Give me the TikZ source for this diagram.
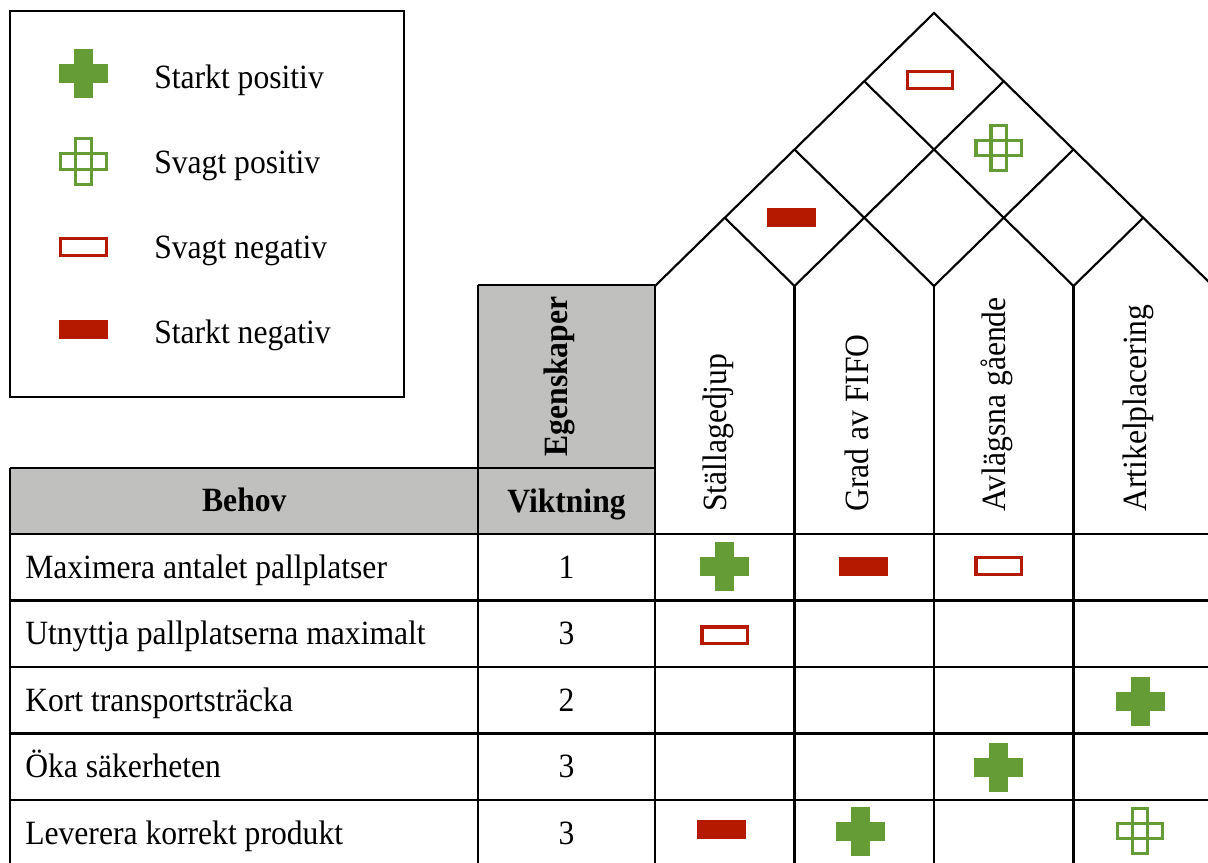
\documentclass[tikz,border=0pt]{standalone}
\usepackage{fontspec}
\setmainfont{Liberation Serif}
\usepackage{graphicx}
\definecolor{qgreen}{RGB}{102,156,53}
\definecolor{qred}{RGB}{181,26,0}
\definecolor{qgray}{RGB}{192,193,191}
\newcommand\qtxt[1]{\scalebox{0.93}[1]{#1}}
\tikzset{
  qline/.style={line width=1.6pt, black},
  qtext/.style={inner sep=0pt, font=\fontsize{25.5}{30}\selectfont},
  qbold/.style={inner sep=0pt, font=\fontsize{25.5}{30}\selectfont\bfseries},
  pics/spos/.style={code={
    \fill[qgreen] (-24.5,-9.5) rectangle (24.5,9.5);
    \fill[qgreen] (-9.5,-24.5) rectangle (9.5,24.5);}},
  pics/wpos/.style={code={
    \draw[qgreen,line width=2.6pt] (-22.75,-7.75) rectangle (22.75,7.75);
    \draw[qgreen,line width=2.6pt] (-7.75,-22.75) rectangle (7.75,22.75);}},
  pics/wneg/.style={code={
    \draw[qred,line width=2.6pt] (-22.75,-8.25) rectangle (22.75,8.25);}},
  pics/sneg/.style={code={
    \fill[qred] (-24.5,-9.5) rectangle (24.5,9.5);}},
}
\begin{document}
\begin{tikzpicture}[x=0.75pt,y=-0.75pt]
\clip (0,0) rectangle (1208,863);
\fill[white] (0,0) rectangle (1208,863);

% ---------- legend ----------
\draw[line width=1.9pt] (10,11) rectangle (404,397);
\pic at (83.5,73.5) {spos};
\pic at (83.5,161.5) {wpos};
\pic at (83.5,247) {wneg};
\pic at (83.5,329.5) {sneg};
\node[qtext, anchor=base west] (l1) at (154,88.3) {\qtxt{Starkt positiv}};
\node[qtext, anchor=base west] (l2) at (154,174) {\qtxt{Svagt positiv}};
\node[qtext, anchor=base west] (l3) at (154,259) {\qtxt{Svagt negativ}};
\node[qtext, anchor=base west] (l4) at (154,344) {\qtxt{Starkt negativ}};

% ---------- grey header cells ----------
\fill[qgray] (478,285) rectangle (655,534);
\fill[qgray] (10,468) rectangle (478,534);

% ---------- roof ----------
\draw[qline, line join=miter] (655,286) -- (934,13) -- (1213,286);
\draw[qline] (794.5,286) -- (1003.75,81.25);
\draw[qline] (934,286) -- (1073.5,149.5);
\draw[qline] (1073.5,286) -- (1143.25,217.75);
\draw[qline] (794.5,286) -- (724.75,217.75);
\draw[qline] (934,286) -- (794.5,149.5);
\draw[qline] (1073.5,286) -- (864.25,81.25);
\pic at (930,80) {wneg};
\pic at (998.7,148) {wpos};
\pic at (791.4,218) {sneg};

% ---------- table lines ----------
\draw[qline] (478,285) -- (655,285);
\draw[qline] (10,468) -- (655,468);
\foreach \y in {534,600.5,667,733.5,800}
  \draw[qline] (10,\y) -- (1215,\y);
\draw[qline] (10,468) -- (10,870);
\draw[qline] (478,285) -- (478,870);
\draw[qline] (655,285) -- (655,870);
\foreach \x in {794.5,934,1073.5,1213}
  \draw[qline] (\x,286) -- (\x,870);

% ---------- header texts ----------
\node[qbold, anchor=base] (behov) at (244.3,511.7) {\qtxt{Behov}};
\node[qbold, anchor=base] (vikt) at (566.5,512.3) {\qtxt{Viktning}};
\node[qbold, anchor=base, rotate=90] (egen) at (567.3,376.5) {\qtxt{Egenskaper}};
\node[qtext, anchor=base west, rotate=90] (c1) at (726.7,512) {\qtxt{Ställagedjup}};
\node[qtext, anchor=base west, rotate=90] (c2) at (868,512) {\qtxt{Grad av FIFO}};
\node[qtext, anchor=base west, rotate=90] (c3) at (1005,512) {\qtxt{Avlägsna gående}};
\node[qtext, anchor=base west, rotate=90] (c4) at (1146,512) {\qtxt{Artikelplacering}};

% ---------- rows ----------
\node[qtext, anchor=base west] (r1) at (25,578.3) {\qtxt{Maximera antalet pallplatser}};
\node[qtext, anchor=base west] (r2) at (25,644.8) {\qtxt{Utnyttja pallplatserna maximalt}};
\node[qtext, anchor=base west] (r3) at (25,711.3) {\qtxt{Kort transportsträcka}};
\node[qtext, anchor=base west] (r4) at (25,777.8) {\qtxt{Öka säkerheten}};
\node[qtext, anchor=base west] (r5) at (25,844.3) {\qtxt{Leverera korrekt produkt}};
\node[qtext, anchor=base] (w1) at (566.5,578.3) {\qtxt{1}};
\node[qtext, anchor=base] (w2) at (566.5,644.8) {\qtxt{3}};
\node[qtext, anchor=base] (w3) at (566.5,711.3) {\qtxt{2}};
\node[qtext, anchor=base] (w4) at (566.5,777.8) {\qtxt{3}};
\node[qtext, anchor=base] (w5) at (566.5,844.3) {\qtxt{3}};

% ---------- relationship symbols ----------
\pic at (724.7,566) {spos};
\pic at (863,566) {sneg};
\pic at (998.7,566) {wneg};
\pic at (724.7,635.3) {wneg};
\pic at (1140,701) {spos};
\pic at (998.5,767.5) {spos};
\pic at (721.8,829.5) {sneg};
\pic at (860.3,831) {spos};
\pic at (1140,831) {wpos};
\end{tikzpicture}
\end{document}
